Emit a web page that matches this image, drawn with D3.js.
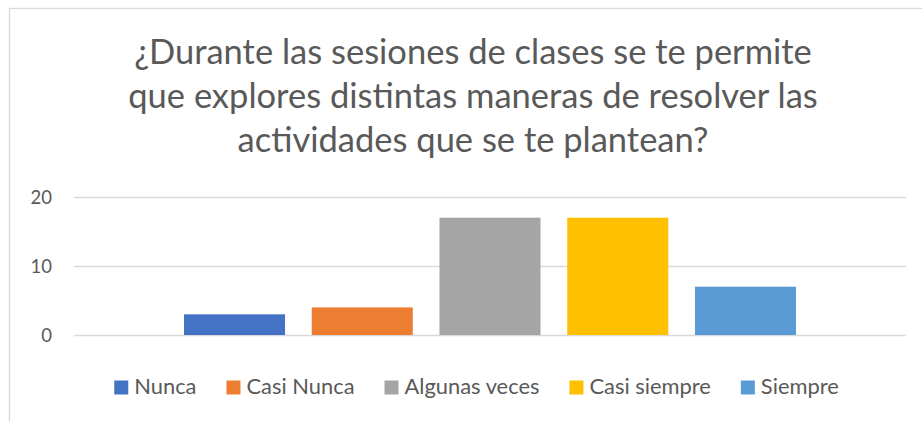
<!DOCTYPE html>
<html>
<head>
<meta charset="utf-8">
<script src="https://cdn.jsdelivr.net/npm/d3@7"></script>
<style>
  html, body { margin: 0; padding: 0; background: #fff; }
  svg { display: block; }
  text { font-family: Lato, "Noto Sans", sans-serif; fill: #595959; }
</style>
</head>
<body>
<svg id="chart" width="922" height="421"></svg>
<script>
const titleLines = [
  "¿Durante las sesiones de clases se te permite",
  "que explores distintas maneras de resolver las",
  "actividades que se te plantean?"
];
const categories = [""];
const seriesNames = ["Nunca", "Casi Nunca", "Algunas veces", "Casi siempre", "Siempre"];
const seriesValues = [3, 4, 17, 17, 7];
const seriesColors = ["#4472C4", "#ED7D31", "#A5A5A5", "#FFC000", "#5B9BD5"];
const yTicks = [0, 10, 20];

const svg = d3.select("#chart");

// chart frame
svg.append("rect")
  .attr("x", 9.5).attr("y", 8.5)
  .attr("width", 940).attr("height", 440)
  .attr("fill", "#fff").attr("stroke", "#D9D9D9").attr("stroke-width", 1.3);

const plot = { left: 74, right: 906, top: 197, bottom: 335 };
const centerX = 473;

// title
const tl = svg.append("g").selectAll("text").data(titleLines).join("text")
  .attr("x", centerX)
  .attr("y", (d, i) => 63.5 + i * 44)
  .attr("text-anchor", "middle")
  .style("font-size", "30px")
  .text(d => d);
const w0 = tl.nodes()[0].getComputedTextLength();
tl.style("font-size", (30 * 678 / w0) + "px");

// scales
const y = d3.scaleLinear().domain([0, 20]).range([plot.bottom, plot.top]);
const x0 = d3.scaleBand().domain(categories).range([plot.left, plot.right]).padding(0);
const x1 = d3.scaleBand().domain(seriesNames)
  .range([0, x0.bandwidth()])
  .paddingInner(0.209).paddingOuter(0.861);

// gridlines
svg.append("g").selectAll("line").data(yTicks).join("line")
  .attr("x1", plot.left).attr("x2", plot.right)
  .attr("y1", d => Math.round(y(d)) + 0.5).attr("y2", d => Math.round(y(d)) + 0.5)
  .attr("stroke", "#D9D9D9").attr("stroke-width", 1.3);

// y axis labels
const yAxis = d3.axisLeft(y).tickValues(yTicks).tickSize(0).tickPadding(0);
const ya = svg.append("g").attr("transform", "translate(52,0)").call(yAxis);
ya.select(".domain").remove();
ya.selectAll("text")
  .style("font-size", "18.5px")
  .style("font-family", "Lato, 'Noto Sans', sans-serif")
  .attr("fill", "#595959")
  .attr("dy", "0.35em");

// bars
const data = seriesNames.map((n, i) => ({ cat: categories[0], name: n, value: seriesValues[i], color: seriesColors[i] }));
svg.append("g").selectAll("rect").data(data).join("rect")
  .attr("x", d => x0(d.cat) + x1(d.name))
  .attr("width", x1.bandwidth())
  .attr("y", d => y(d.value))
  .attr("height", d => y(0) - y(d.value))
  .attr("fill", d => d.color);

// legend
const leg = svg.append("g");
const items = leg.selectAll("g").data(data).join("g");
items.append("rect").attr("width", 14).attr("height", 14).attr("y", 380.5).attr("fill", d => d.color);
const lt = items.append("text").attr("y", 394).style("font-size", "18px").text(d => d.name);
const markerW = 14, markerGap = 6, itemGap = 30;
const targetTotal = 725;
const fixedPart = seriesNames.length * (markerW + markerGap) + (seriesNames.length - 1) * itemGap;
let sumW = d3.sum(lt.nodes(), n => n.getComputedTextLength());
const lfs = 18 * (targetTotal - fixedPart) / sumW;
lt.style("font-size", lfs + "px");
const widths = lt.nodes().map(n => n.getComputedTextLength());
const total = fixedPart + d3.sum(widths);
let cx = 476.5 - total / 2;
items.each(function(d, i) {
  const g = d3.select(this);
  g.attr("transform", `translate(${cx},0)`);
  g.select("text").attr("x", markerW + markerGap);
  cx += markerW + markerGap + widths[i] + itemGap;
});
</script>
</body>
</html>
